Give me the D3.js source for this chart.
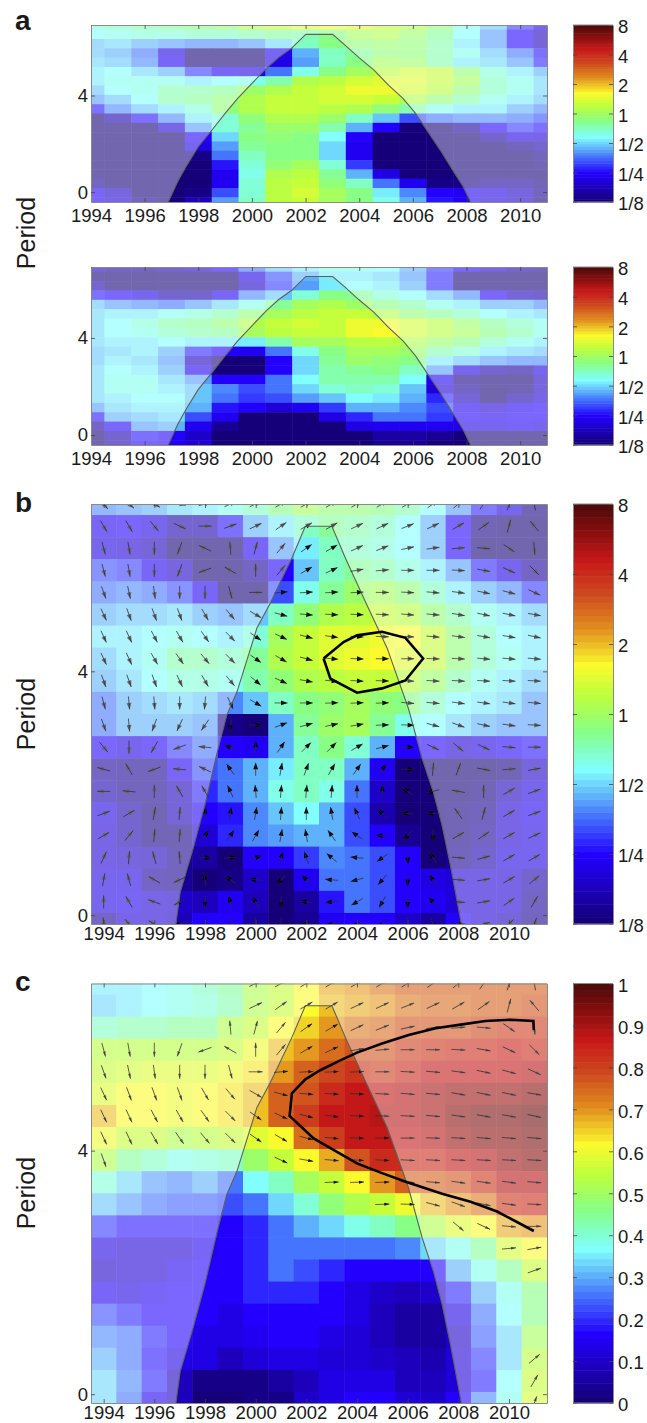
<!DOCTYPE html>
<html>
<head>
<meta charset="utf-8">
<script src="https://cdn.jsdelivr.net/npm/d3@7"></script>
<style>
	html, body { margin: 0; padding: 0; background: #fff; }
	svg { display: block; }
	text { font-family: "Liberation Sans", Arial, sans-serif; fill: #1a1a1a; }
</style>
</head>
<body>
<script>
//x axis + colorbar labels
var xTickYears = [ 1994, 1996, 1998, 2000, 2002, 2004, 2006, 2008, 2010 ],
	yTickPeriods = [ 0, 4 ],
	powerTicks = [ -3, -2, -1, 0, 1, 2, 3 ],
	powerTickLabels = [ "1/8", "1/4", "1/2", "1", "2", "4", "8" ],
	coherenceTicks = [ 0, 0.1, 0.2, 0.3, 0.4, 0.5, 0.6, 0.7, 0.8, 0.9, 1 ];

//colormap stops
var colorStops = [ 0, 0.165, 0.26, 0.315, 0.367, 0.41, 0.459, 0.546, 0.617, 0.705, 0.79, 0.863, 0.93, 1 ],
	colorValues = [ "rgb(20,0,115)", "rgb(35,0,255)", "rgb(70,120,255)", "rgb(100,190,250)", "rgb(130,255,255)", "rgb(130,255,200)", "rgb(135,255,135)", "rgb(190,255,60)", "rgb(250,250,45)", "rgb(225,140,30)", "rgb(205,70,30)", "rgb(200,25,25)", "rgb(140,15,15)", "rgb(75,10,10)" ];

//cone of influence: panel a rows are squeezed a little differently than b and c
var coiYearsA = [ 1996.88, 1997.23, 1997.54, 1998.0, 1998.46, 1999.0, 1999.47, 2000.0, 2000.54, 2001.0, 2001.47, 2002.01, 2003.01, 2003.47, 2003.98, 2004.55, 2005.09, 2005.63, 2006.1, 2006.56, 2007.02, 2007.48, 2007.87, 2008.15 ],
	coiPeriodsA = [ -0.41, 0.43, 1.05, 1.88, 2.5, 3.26, 3.88, 4.5, 5.12, 5.58, 5.95, 6.53, 6.53, 6.09, 5.58, 5.05, 4.43, 3.88, 3.26, 2.5, 1.74, 0.92, 0.23, -0.41 ],
	coiYearsB = [ 1996.85, 1997.02, 1997.53, 1998.01, 1998.47, 1998.86, 1999.26, 2000.05, 2000.58, 2001.43, 2001.96, 2003.01, 2003.54, 2004.4, 2005.19, 2006.03, 2006.57, 2007.02, 2007.36, 2007.69, 2008.12 ],
	coiPeriodsB = [ -0.15, 0.37, 1.09, 1.83, 2.65, 3.28, 3.66, 4.71, 5.12, 5.86, 6.38, 6.38, 5.86, 5.08, 4.38, 3.39, 2.57, 2.01, 1.47, 0.81, -0.15 ];

//significance contour in b, ridge line in c
var contourYears = [ 2002.68, 2002.95, 2004.0, 2004.99, 2005.91, 2006.61, 2005.91, 2004.99, 2004.0, 2003.47, 2002.68 ],
	contourPeriods = [ 4.21, 3.88, 3.65, 3.72, 3.85, 4.21, 4.55, 4.65, 4.59, 4.48, 4.21 ],
	ridgeYears = [ 2010.98, 2010.96, 2010.06, 2009.07, 2008.09, 2007.1, 2006.04, 2004.99, 2004.0, 2003.28, 2002.55, 2001.96, 2001.43, 2001.34, 2002.29, 2003.21, 2004.0, 2004.99, 2005.98, 2007.36, 2008.48, 2009.53, 2010.98 ],
	ridgePeriods = [ 5.98, 6.13, 6.15, 6.13, 6.07, 6.01, 5.9, 5.76, 5.61, 5.47, 5.32, 5.17, 4.94, 4.57, 4.2, 3.98, 3.79, 3.63, 3.48, 3.29, 3.16, 3.0, 2.68 ];

//log2 wavelet power, rows from top, one column per year 1994-2011
var powerA1 = [
	[-.65,-.5,-.45,-.35,-.25,-.1,.1,.3,.5,.6,.5,.35,.1,-.1,-.7,-1.1,-1.7,-2.2],
	[-.8,-.7,-.65,-.6,-.5,-.5,-.4,-.35,-.4,-.2,0,.1,-.05,-.35,-.8,-1.3,-2,-2.5],
	[-1.1,-1,-1.2,-1.3,-1.4,-1.4,-1.25,-.95,-.5,-.2,-.1,-.05,-.15,-.4,-.85,-1.3,-2,-2.5],
	[-1.1,-1.2,-1.5,-2.2,-3,-3,-3,-2.1,-1.2,-.55,-.3,-.1,-.1,-.4,-.75,-1.1,-1.5,-1.9],
	[-.95,-1.1,-1.4,-2.1,-3,-3,-3,-2.2,-1.3,-.55,-.2,0,-.05,-.4,-.85,-1,-1.3,-1.8],
	[-.85,-.8,-1,-1.2,-1.7,-2.1,-2.2,-1.5,-.75,-.25,0,.2,.4,.35,-.1,-.6,-.85,-1.2],
	[-.85,-.7,-.7,-.75,-.85,-.8,-.75,-.4,.1,.2,.45,.55,.5,.35,0,-.5,-.7,-1],
	[-1.05,-.8,-.7,-.45,-.4,-.3,-.05,.1,.3,.4,.6,.6,.4,.25,-.1,-.55,-.7,-1],
	[-1.25,-1.05,-.8,-.4,-.3,-.1,.1,.3,.35,.4,.4,.35,.15,-.15,-.45,-.7,-.85,-1.1],
	[-1.9,-1.4,-1.1,-.85,-.6,-.1,.1,.3,.3,.25,.1,-.1,-.4,-.75,-.85,-.9,-1.2,-1.4],
	[-3,-2.6,-1.9,-1.35,-.85,-.6,-.1,.15,.15,-.05,-.5,-1.05,-1.6,-1.5,-1.4,-1.4,-1.5,-1.6],
	[-3,-3,-3,-2.3,-1.3,-.6,-.3,-.05,-.05,-.45,-1.15,-2,-3,-3,-2.7,-2,-1.7,-1.9],
	[-3,-3,-3,-3,-2,-1,-.25,-.15,-.2,-.8,-2,-3,-3,-3,-3,-2.6,-2.2,-2.3],
	[-3,-3,-3,-3,-2.2,-1.3,-.35,-.2,-.2,-1,-2.1,-3,-3,-3,-3,-3,-2.8,-2.6],
	[-3,-3,-3,-3,-2.9,-1.5,-.55,-.2,-.2,-.95,-2.1,-3,-3,-3,-3,-3,-3,-2.8],
	[-3,-3,-3,-3,-3,-1.9,-.65,-.1,0,-.6,-1.75,-3,-3,-3,-3,-3,-3,-2.9],
	[-3,-3,-3,-3,-3,-2.1,-.7,.1,.2,-.3,-1.2,-2.2,-3,-3,-3,-3,-3,-3],
	[-2.8,-3,-3,-3,-3,-2.1,-.65,.2,.3,-.15,-.55,-1.5,-2.1,-2.9,-2.9,-2.7,-2.7,-2.9],
	[-2.1,-2.4,-3,-3,-2.9,-1.6,-.6,.25,.4,0,-.25,-.85,-1.35,-2,-2.1,-2.2,-2.4,-2.8],
	[-2.1,-2.3,-2.8,-3,-2.5,-1.3,-.55,.2,.35,0,-.2,-.75,-1.2,-1.9,-2.1,-2.2,-2.4,-2.9]
];

var powerA2 = [
	[-2.5,-2.7,-2.7,-2.6,-2.4,-2,-1.5,-1.1,-.85,-.75,-.75,-.8,-1.2,-1.7,-2,-2.3,-2.6,-2.7],
	[-3,-3,-3,-3,-3,-3,-2.2,-1.6,-1.2,-.85,-.85,-.95,-1.3,-1.8,-3,-3,-3,-3],
	[-2.6,-3,-3,-3,-3,-3,-2.4,-1.7,-1.25,-.9,-.8,-.9,-1.2,-1.85,-3,-3,-3,-3],
	[-1.9,-2,-2.2,-2.6,-2.6,-2.1,-1.4,-1.1,-.6,-.25,-.35,-.6,-.8,-1.1,-1.4,-2,-2.5,-2.6],
	[-1.1,-1.3,-1.4,-1.45,-1.3,-1,-.75,-.3,0,.1,-.05,-.25,-.45,-.7,-.85,-1.15,-1.2,-1.4],
	[-1,-.9,-.85,-.75,-.6,-.4,-.1,.05,.25,.3,.3,.1,-.1,-.3,-.55,-.8,-.85,-1],
	[-.95,-.8,-.6,-.45,-.35,-.1,.15,.35,.4,.35,.6,.65,.4,.2,-.05,-.3,-.5,-.75],
	[-.95,-.8,-.7,-.5,-.45,-.3,0,.25,.35,.35,.65,.7,.45,.25,0,-.25,-.45,-.75],
	[-1,-.85,-.85,-.8,-.85,-.85,-.9,-.4,0,0,.2,.2,.1,-.05,-.25,-.5,-.7,-.85],
	[-1.05,-.95,-.9,-1.2,-1.8,-2,-2.1,-1.5,-.7,-.2,.05,.05,-.05,-.45,-.65,-.85,-.95,-1.1],
	[-1.05,-.9,-1,-1.3,-2.5,-3,-3,-2,-1,-.35,-.05,-.1,-.2,-.85,-1.1,-1.3,-1.4,-1.4],
	[-.95,-.8,-.85,-1.2,-2.1,-3,-3,-2,-1,-.4,-.3,-.25,-.55,-1.25,-2.2,-2.6,-2.7,-2.2],
	[-.95,-.75,-.75,-.95,-1.3,-2,-2,-1.5,-.8,-.4,-.4,-.4,-.8,-2.1,-2.9,-3,-3,-2.4],
	[-.95,-.75,-.75,-.85,-1.1,-1.4,-1.65,-1.45,-1,-.65,-.5,-.6,-1.05,-2.3,-2.7,-3,-2.9,-2.4],
	[-.95,-.85,-.8,-.8,-1.1,-1.5,-1.7,-1.6,-1.3,-1.05,-.8,-.85,-1.15,-1.8,-2.5,-3,-2.6,-2.3],
	[-1.25,-1,-.85,-.85,-1.2,-1.9,-2.05,-2.3,-2.1,-1.7,-1.2,-1.15,-1.35,-1.65,-2.1,-2.3,-2.1,-2],
	[-1.9,-1.2,-1.05,-1,-1.6,-2.1,-3,-3,-3,-2.2,-1.8,-1.5,-1.5,-1.7,-2,-2.1,-2,-2],
	[-2.7,-2,-1.3,-1.15,-2.1,-2.8,-3,-3,-3,-3,-2.2,-2.1,-2.1,-2.1,-2.2,-2.2,-2.1,-2.2],
	[-3,-2.6,-1.9,-2,-2.4,-3,-3,-3,-3,-3,-3,-2.7,-2.7,-2.8,-3,-3,-3,-3],
	[-3,-2.6,-2,-2.1,-2.3,-3,-3,-3,-3,-3,-3,-2.8,-2.8,-3,-3,-3,-3,-3]
];

var powerB = [
	[-1.4,-1.3,-1.2,-1,-.85,-.75,-.5,-.2,0,-.1,-.15,-.2,-.4,-.8,-1.3,-1.8,-2.2,-2.9],
	[-2.1,-2,-2.2,-2.6,-2.6,-1.9,-1.2,-.85,-.5,-.3,-.45,-.5,-.8,-1.2,-2,-2.9,-3,-3],
	[-2.2,-2.3,-2.5,-3,-3,-3,-2.1,-1.3,-.85,-.5,-.55,-.6,-.8,-1.2,-2,-3,-3,-3],
	[-1.6,-1.7,-2.1,-2.4,-3,-3,-2.7,-2,-1.1,-.55,-.3,-.4,-.6,-.9,-1.3,-1.8,-2.2,-2.7],
	[-1.5,-1.4,-1.5,-1.6,-2.1,-3,-3,-1.6,-.75,-.3,-.05,.05,-.15,-.5,-.9,-1.15,-1.4,-1.7],
	[-1.15,-1.05,-1.05,-1,-1.2,-1.25,-1.1,-.5,-.1,.1,.25,.35,.2,-.1,-.45,-.75,-.9,-1.05],
	[-.9,-.85,-.8,-.75,-.8,-.9,-.6,.05,.3,.5,.55,.6,.7,.35,-.1,-.55,-.8,-.9],
	[-1.05,-.85,-.7,-.45,-.45,-.55,-.3,.1,.3,.5,.6,.7,.55,.3,-.15,-.55,-.75,-.85],
	[-1.2,-.95,-.8,-.6,-.6,-.75,-.4,-.1,.1,.25,.35,.35,.2,-.05,-.45,-.7,-.85,-1.1],
	[-1.5,-1.2,-1.1,-1,-1.1,-1.4,-1.05,-.55,-.2,-.1,0,-.1,-.25,-.55,-.8,-.9,-1,-1.25],
	[-1.5,-1.2,-1.2,-1.2,-1.3,-2.9,-3,-1.15,-.35,-.05,0,-.35,-.75,-.8,-1,-1.15,-1.25,-1.25],
	[-2,-2.2,-2,-1.7,-1.5,-2.05,-2.1,-1.15,-.55,-.25,-.65,-1.2,-2,-2,-2.3,-2.2,-2,-1.9],
	[-2.7,-2.8,-2.8,-2.1,-1.6,-1.45,-1.2,-.85,-.5,-.5,-1.15,-2.1,-3,-3,-3,-3,-2.9,-2.4],
	[-2.6,-2.8,-2.8,-2.5,-1.8,-1.5,-1.15,-.75,-.5,-.75,-1.5,-2.4,-3,-3,-3,-2.9,-2.5,-2.2],
	[-2.2,-2.6,-2.9,-2.5,-2,-1.95,-1.35,-1.1,-.8,-1.15,-1.6,-2.6,-3,-3,-2.9,-2.8,-2.3,-2.1],
	[-2.3,-2.6,-2.9,-2.9,-2.3,-1.8,-1.35,-1.3,-1.15,-1.2,-1.65,-2.05,-2.8,-3,-2.9,-2.7,-2.3,-2.2],
	[-2.3,-2.4,-2.5,-2.8,-2.7,-3,-2.05,-2,-1.7,-1.35,-1.5,-1.65,-2.05,-3,-2.8,-2.6,-2.2,-2.2],
	[-2.2,-2.2,-2.7,-2.8,-3,-2.9,-2.4,-3,-2.1,-1.5,-1.5,-1.6,-2,-2.2,-2.3,-2.3,-2.3,-2.6],
	[-2.2,-2.1,-2.3,-2.4,-2.5,-2.15,-2.5,-3,-2.7,-1.9,-1.5,-1.6,-2.05,-2.1,-2.3,-2.3,-2.3,-2.7],
	[-2.7,-2.3,-2.3,-2.5,-2.05,-2.05,-2.7,-3,-2.8,-2.15,-2,-2,-2.4,-2.7,-2,-2.3,-2.5,-2.8]
];

//wavelet coherence, same layout
var coherence = [
	[.35,.35,.36,.38,.42,.45,.53,.56,.62,.68,.7,.72,.75,.75,.75,.75,.76,.76],
	[.33,.35,.36,.39,.4,.43,.53,.56,.62,.66,.68,.7,.72,.74,.74,.75,.76,.77],
	[.42,.43,.43,.44,.45,.53,.55,.61,.65,.7,.73,.74,.77,.78,.78,.79,.8,.8],
	[.54,.54,.54,.54,.54,.56,.6,.66,.7,.74,.77,.78,.8,.82,.83,.84,.85,.83],
	[.56,.57,.58,.58,.58,.6,.64,.7,.76,.79,.82,.8,.84,.86,.86,.86,.86,.88],
	[.59,.61,.61,.6,.61,.63,.67,.75,.78,.84,.87,.87,.88,.9,.91,.91,.92,.93],
	[.66,.62,.61,.6,.62,.63,.67,.75,.8,.86,.87,.88,.88,.9,.93,.94,.95,.96],
	[.6,.55,.55,.53,.54,.55,.58,.61,.74,.8,.86,.87,.86,.88,.91,.93,.93,.95],
	[.53,.45,.42,.39,.4,.42,.49,.56,.61,.68,.78,.83,.84,.84,.87,.89,.92,.93],
	[.4,.34,.29,.27,.3,.25,.36,.42,.51,.56,.62,.7,.76,.76,.78,.82,.88,.88],
	[.32,.29,.25,.24,.24,.22,.26,.33,.4,.47,.52,.56,.6,.66,.7,.73,.82,.84],
	[.21,.18,.18,.18,.18,.17,.2,.26,.31,.34,.38,.41,.46,.52,.58,.62,.68,.7],
	[.13,.12,.12,.12,.15,.165,.2,.25,.26,.25,.25,.25,.27,.33,.38,.45,.57,.62],
	[.1,.12,.12,.15,.17,.165,.2,.25,.22,.2,.165,.165,.165,.16,.3,.38,.45,.55],
	[.15,.14,.15,.16,.16,.165,.2,.2,.2,.165,.14,.1,.08,.1,.2,.3,.38,.46],
	[.22,.2,.16,.16,.16,.14,.165,.165,.165,.165,.13,.08,.06,.06,.13,.25,.36,.46],
	[.27,.25,.2,.16,.13,.13,.15,.165,.165,.14,.12,.09,.06,.06,.1,.24,.34,.5],
	[.31,.26,.18,.14,.13,.09,.11,.13,.13,.12,.12,.1,.08,.07,.12,.21,.34,.54],
	[.33,.27,.2,.09,.03,.03,.03,.05,.08,.14,.13,.13,.09,.08,.12,.2,.36,.56],
	[.34,.26,.15,.08,.01,.01,.02,.02,.1,.14,.16,.16,.12,.1,.17,.28,.38,.57]
];

//phase arrows, degrees counter clockwise from east; c only shows them where coherence is high
var phaseDeg = [
	[-50,-40,-30,-10,15,25,25,30,30,30,30,30,30,35,40,55,75,100],
	[-60,-60,-50,-25,0,20,25,35,30,30,25,25,22,25,30,35,75,130],
	[-75,-80,-90,-110,155,95,75,50,35,30,25,22,12,8,5,-5,-35,-85],
	[-75,-80,-90,-110,-160,150,90,50,30,25,10,5,0,0,-3,-10,-25,-45],
	[-70,-78,-82,-90,-90,-75,0,5,3,3,3,0,-3,-5,-8,-12,-15,-25],
	[-65,-70,-70,-70,-60,-50,-30,-15,-5,-3,-3,-3,-5,-5,-10,-12,-12,-10],
	[-65,-65,-62,-60,-55,-45,-35,-25,-15,-8,-3,-2,-3,-5,-8,-10,-10,-12],
	[-65,-65,-60,-55,-50,-45,-35,-30,-15,-5,-2,0,0,-2,-3,-5,-5,-5],
	[-70,-70,-70,-65,-60,-50,-40,-25,-10,-5,-3,-2,-3,-3,-3,-3,-3,-3],
	[-75,-85,-85,-90,-95,-65,-30,0,0,2,2,2,-5,-5,-8,-8,-8,-5],
	[-70,-85,-110,-115,-125,-100,0,20,15,12,10,2,-2,-15,-20,-12,-8,-3],
	[-50,-90,-120,-160,175,160,90,55,45,45,30,15,0,-25,-40,-25,-5,0],
	[165,120,-160,175,155,125,90,80,70,60,55,50,0,85,70,-10,5,10],
	[180,175,90,120,120,115,95,85,85,85,90,90,145,-165,170,90,30,20],
	[20,30,80,85,85,80,80,85,90,100,115,135,175,175,125,75,30,20],
	[30,50,85,85,55,55,60,80,100,125,145,180,-130,-90,30,35,30,25],
	[65,85,105,95,0,5,20,70,110,140,175,-145,-85,125,-5,15,30,30],
	[80,105,150,-155,100,145,175,-135,135,175,-165,-130,-90,130,-5,10,30,40],
	[90,120,160,-150,-95,110,125,-90,175,-175,-150,-120,-90,135,-5,10,35,60],
	[95,130,150,-160,-100,-100,-90,-90,180,-170,-150,-120,-90,-70,0,15,45,70]
];

//arrows are only plotted in c from this coherence on
var coherenceCutoff = 0.53;

;( function() {

	"use strict";

	var width = 647,
		height = 1423,
		plotLeft = 91,
		plotRight = 547,
		barLeft = 573,
		barRight = 613,
		colorLevels = 64,
		shroudOpacity = 0.4;

	var svg = d3.select( "body" ).append( "svg" )
		.attr( "width", width )
		.attr( "height", height );

	var colormap = d3.scaleLinear().domain( colorStops ).range( colorValues ).clamp( true );

	//colorbars come in bands, so do the cells
	var bandColor = function( t ) {
		var level = Math.min( colorLevels - 1, Math.floor( t * colorLevels ) );
		return colormap( ( level + 0.5 ) / colorLevels );
	};

	var powerToUnit = d3.scaleLinear().domain( [ -3, 3 ] ).range( [ 0, 1 ] ).clamp( true ),
		coherenceToUnit = d3.scaleLinear().domain( [ 0, 1 ] ).range( [ 0, 1 ] ).clamp( true );

	var panels = [
		{ id: "a1", top: 25, bottom: 202, values: powerA1, toUnit: powerToUnit, years: [ 1994, 2011 ], periods: [ -0.41, 6.92 ], coiYears: coiYearsA, coiPeriods: coiPeriodsA, labelPad: 7 },
		{ id: "a2", top: 267, bottom: 445, values: powerA2, toUnit: powerToUnit, years: [ 1994, 2011 ], periods: [ -0.41, 6.92 ], coiYears: coiYearsA, coiPeriods: coiPeriodsA, labelPad: 7 },
		{ id: "b", top: 504, bottom: 924, values: powerB, toUnit: powerToUnit, years: [ 1993.5, 2011.5 ], periods: [ -0.145, 6.745 ], coiYears: coiYearsB, coiPeriods: coiPeriodsB, labelPad: 3, arrows: "fat" },
		{ id: "c", top: 983.5, bottom: 1403, values: coherence, toUnit: coherenceToUnit, years: [ 1993.5, 2011.5 ], periods: [ -0.145, 6.745 ], coiYears: coiYearsB, coiPeriods: coiPeriodsB, labelPad: 2.5, arrows: "thin" }
	];

	//filled head in front, the tail stays a hairline
	var arrowHead = function( style ) {
		var half = ( style === "fat" )? 6.5: 7,
			headLength = ( style === "fat" )? 6.5: 5,
			headHalf = ( style === "fat" )? 2.4: 1.5,
			p = d3.path();
		p.moveTo( half - headLength, -headHalf );
		p.lineTo( half, 0 );
		p.lineTo( half - headLength, headHalf );
		p.closePath();
		return p.toString();
	};

	var arrowTail = function( style ) {
		var half = ( style === "fat" )? 6.5: 7,
			p = d3.path();
		p.moveTo( -half, 0 );
		p.lineTo( half, 0 );
		return p.toString();
	};

	var styleAxis = function( g ) {
		g.selectAll( "path.domain" ).attr( "stroke", "#8a8a8a" ).attr( "stroke-width", 1 );
		g.selectAll( ".tick line" ).attr( "stroke", "#444" ).attr( "stroke-width", 0.8 );
		g.selectAll( ".tick text" )
			.attr( "font-size", 18.5 )
			.attr( "font-family", "'Liberation Sans', Arial, sans-serif" )
			.attr( "fill", "#1a1a1a" );
		g.attr( "font-family", null );
	};

	var drawPanel = function( panel ) {

		var x = d3.scaleLinear().domain( panel.years ).range( [ plotLeft, plotRight ] ),
			y = d3.scaleLinear().domain( panel.periods ).range( [ panel.bottom, panel.top ] ),
			rowY = d3.scaleLinear().domain( [ 0, panel.values.length - 1 ] ).range( [ panel.top, panel.bottom ] ),
			firstYear = 1994;

		var clipId = "clip-" + panel.id;
		svg.append( "clipPath" )
			.attr( "id", clipId )
			.append( "rect" )
				.attr( "x", plotLeft )
				.attr( "y", panel.top )
				.attr( "width", plotRight - plotLeft )
				.attr( "height", panel.bottom - panel.top );

		var g = svg.append( "g" ).attr( "clip-path", "url(#" + clipId + ")" ),
			soft = g.append( "g" ).style( "filter", "blur(0.6px)" );

		//cells are centred on their year and on their row
		panel.values.forEach( function( row, r ) {
			soft.append( "g" ).selectAll( "rect" )
				.data( row )
				.enter()
				.append( "rect" )
					.attr( "x", function( d, i ) { return x( firstYear + i - 0.5 ); } )
					.attr( "y", rowY( r - 0.5 ) )
					.attr( "width", x( firstYear + 1 ) - x( firstYear ) + 0.5 )
					.attr( "height", rowY( 1 ) - rowY( 0 ) + 0.5 )
					.attr( "fill", function( d ) { return bandColor( panel.toUnit( d ) ); } );
		} );

		//quiver, heads go under the shroud so they grey out beyond the cone
		var eachArrow = function( callback ) {
			phaseDeg.forEach( function( row, r ) {
				row.forEach( function( deg, i ) {
					if( panel.arrows === "thin" && coherence[ r ][ i ] < coherenceCutoff ) {
						return;
					}
					callback( "translate(" + x( firstYear + i ) + "," + rowY( r ) + ") rotate(" + ( -deg ) + ")" );
				} );
			} );
		};
		if( panel.arrows ) {
			var headShape = arrowHead( panel.arrows );
			eachArrow( function( transform ) {
				g.append( "path" )
					.attr( "d", headShape )
					.attr( "transform", transform )
					.attr( "fill", "#000" );
			} );
		}

		//everything outside of the cone gets washed out
		var coi = d3.range( panel.coiYears.length ).map( function( i ) {
			return [ x( panel.coiYears[ i ] ), y( panel.coiPeriods[ i ] ) ];
		} );
		var coiLine = d3.line();
		var outer = "M" + plotLeft + "," + panel.top + "H" + plotRight + "V" + panel.bottom + "H" + plotLeft + "Z";
		g.append( "path" )
			.attr( "d", outer + coiLine( coi ) + "Z" )
			.attr( "fill", "#fff" )
			.attr( "fill-rule", "evenodd" )
			.attr( "opacity", shroudOpacity );
		g.append( "path" )
			.attr( "d", coiLine( coi ) )
			.attr( "fill", "none" )
			.attr( "stroke", "#5a625a" )
			.attr( "stroke-width", 1.1 );

		if( panel.arrows ) {
			var tailShape = arrowTail( panel.arrows );
			eachArrow( function( transform ) {
				g.append( "path" )
					.attr( "d", tailShape )
					.attr( "transform", transform )
					.attr( "fill", "none" )
					.attr( "stroke", "#2a2a2a" )
					.attr( "stroke-width", 0.7 );
			} );
		}

		//contour and ridge
		var lineOf = function( years, periods ) {
			return coiLine( years.map( function( year, i ) { return [ x( year ), y( periods[ i ] ) ]; } ) );
		};
		if( panel.id === "b" ) {
			g.append( "path" )
				.attr( "d", lineOf( contourYears, contourPeriods ) )
				.attr( "fill", "none" )
				.attr( "stroke", "#000" )
				.attr( "stroke-width", 2.6 );
		}
		if( panel.id === "c" ) {
			g.append( "path" )
				.attr( "d", lineOf( ridgeYears, ridgePeriods ) )
				.attr( "fill", "none" )
				.attr( "stroke", "#000" )
				.attr( "stroke-width", 2.6 );
		}

		//axes, ticks point inwards on all four sides
		var bottomAxis = d3.axisBottom( x ).tickValues( xTickYears ).tickFormat( d3.format( "d" ) ).tickSize( -4 ).tickSizeOuter( 0 ).tickPadding( panel.labelPad ),
			topAxis = d3.axisTop( x ).tickValues( xTickYears ).tickFormat( "" ).tickSize( -4 ).tickSizeOuter( 0 ),
			leftAxis = d3.axisLeft( y ).tickValues( yTickPeriods ).tickFormat( d3.format( "d" ) ).tickSize( -4 ).tickSizeOuter( 0 ).tickPadding( 3 ),
			rightAxis = d3.axisRight( y ).tickValues( yTickPeriods ).tickFormat( "" ).tickSize( -4 ).tickSizeOuter( 0 );

		svg.append( "g" ).attr( "transform", "translate(0," + panel.bottom + ")" ).call( bottomAxis ).call( styleAxis );
		svg.append( "g" ).attr( "transform", "translate(0," + panel.top + ")" ).call( topAxis ).call( styleAxis );
		svg.append( "g" ).attr( "transform", "translate(" + plotLeft + ",0)" ).call( leftAxis ).call( styleAxis );
		svg.append( "g" ).attr( "transform", "translate(" + plotRight + ",0)" ).call( rightAxis ).call( styleAxis );

	};

	var drawColorbar = function( panel ) {

		var isPower = panel.toUnit === powerToUnit,
			scale = d3.scaleLinear().domain( panel.toUnit.domain() ).range( [ panel.bottom, panel.top ] ),
			unitY = d3.scaleLinear().domain( [ 0, colorLevels ] ).range( [ panel.bottom, panel.top ] ),
			ticks = isPower? powerTicks: coherenceTicks;

		svg.append( "g" )
			.style( "filter", "blur(0.4px)" )
			.selectAll( "rect" )
			.data( d3.range( colorLevels ) )
			.enter()
			.append( "rect" )
				.attr( "x", barLeft )
				.attr( "y", function( d ) { return unitY( d + 1 ); } )
				.attr( "width", barRight - barLeft )
				.attr( "height", function( d ) { return unitY( d ) - unitY( d + 1 ) + 0.5; } )
				.attr( "fill", function( d ) { return colormap( ( d + 0.5 ) / colorLevels ); } );

		var labelOf = function( d ) {
			return isPower? powerTickLabels[ powerTicks.indexOf( d ) ]: d3.format( "~g" )( d );
		};
		var rightAxis = d3.axisRight( scale ).tickValues( ticks ).tickFormat( labelOf ).tickSize( -4 ).tickSizeOuter( 0 ).tickPadding( 5 ),
			leftAxis = d3.axisLeft( scale ).tickValues( ticks ).tickFormat( "" ).tickSize( -4 ).tickSizeOuter( 0 );

		svg.append( "g" ).attr( "transform", "translate(" + barRight + ",0)" ).call( rightAxis ).call( styleAxis )
			.selectAll( ".tick text" ).attr( "dy", "0.42em" );
		svg.append( "g" ).attr( "transform", "translate(" + barLeft + ",0)" ).call( leftAxis ).call( styleAxis );
		svg.append( "path" )
			.attr( "d", "M" + barLeft + "," + panel.top + "H" + barRight + "M" + barLeft + "," + panel.bottom + "H" + barRight )
			.attr( "stroke", "#8a8a8a" );

	};

	panels.forEach( function( panel ) {
		drawPanel( panel );
		drawColorbar( panel );
	} );

	//panel letters
	[ [ "a", 30 ], [ "b", 512 ], [ "c", 991 ] ].forEach( function( d ) {
		svg.append( "text" )
			.attr( "x", 15 )
			.attr( "y", d[ 1 ] )
			.attr( "font-size", 28 )
			.attr( "font-weight", "bold" )
			.attr( "fill", "#111" )
			.text( d[ 0 ] );
	} );

	//period labels
	[ 233, 714, 1193 ].forEach( function( centre ) {
		svg.append( "text" )
			.attr( "transform", "translate(35," + centre + ") rotate(-90)" )
			.attr( "text-anchor", "middle" )
			.attr( "font-size", 25 )
			.text( "Period" );
	} );

})();
</script>
</body>
</html>
